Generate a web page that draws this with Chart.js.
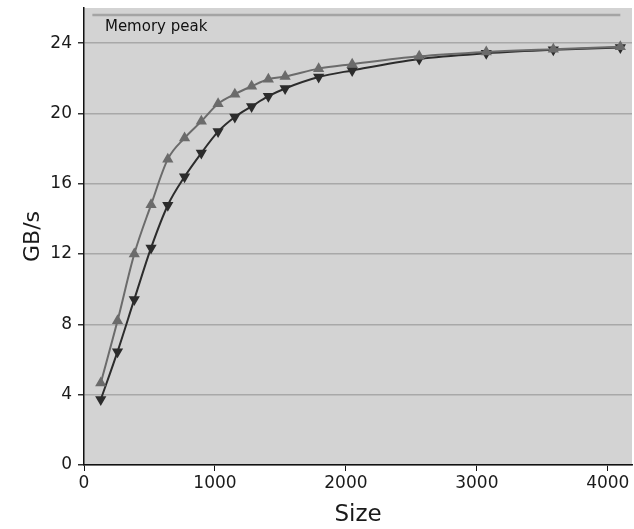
<!DOCTYPE html>
<html>
<head>
<meta charset="utf-8">
<script src="https://cdn.jsdelivr.net/npm/chart.js@4/dist/chart.umd.min.js"></script>
<style>
  html, body { margin: 0; padding: 0; background: #fff; }
  #wrap { width: 634px; height: 529px; }
</style>
</head>
<body>
<div id="wrap"><canvas id="bwChart" width="634" height="529"></canvas></div>
<script>
// matrix sizes
const sizes = [128, 256, 384, 512, 640, 768, 896, 1024, 1152, 1280, 1408, 1536, 1792, 2048, 2560, 3072, 3584, 4096];
// upper curve (grey, up triangles)
const upperGBs = [4.66, 8.2, 12.0, 14.8, 17.4, 18.6, 19.55, 20.55, 21.1, 21.55, 21.95, 22.1, 22.55, 22.8, 23.25, 23.5, 23.65, 23.8];
// lower curve (dark, down triangles)
const lowerGBs = [3.72, 6.45, 9.42, 12.35, 14.78, 16.4, 17.75, 18.97, 19.8, 20.4, 20.98, 21.42, 22.07, 22.45, 23.1, 23.42, 23.62, 23.75];
// memory peak reference
const peakX = [64, 4096];
const peakGBs = 25.6;
const peakLabel = 'Memory peak';
const xTicks = [0, 1000, 2000, 3000, 4000];
const yTicks = [0, 4, 8, 12, 16, 20, 24];

const toPoints = (xs, ys) => xs.map((x, i) => ({ x: x, y: ys[i] }));

const plotBg = {
    id: 'plotBg',
    beforeDraw(chart) {
        const a = chart.chartArea;
        const ctx = chart.ctx;
        ctx.save();
        ctx.fillStyle = '#d3d3d3';
        ctx.fillRect(a.left, a.top, a.right - a.left, a.bottom - a.top);
        ctx.restore();
    }
};

const peakText = {
    id: 'peakText',
    afterDatasetsDraw(chart) {
        const ctx = chart.ctx;
        const x = chart.scales.x.getPixelForValue(160);
        const y = chart.scales.y.getPixelForValue(24.9);
        ctx.save();
        ctx.font = '15px "DejaVu Sans"';
        ctx.fillStyle = '#111';
        ctx.textBaseline = 'middle';
        ctx.fillText(peakLabel, x, y);
        ctx.restore();
    }
};

Chart.defaults.font.family = '"DejaVu Sans", sans-serif';
Chart.defaults.color = '#1a1a1a';

new Chart(document.getElementById('bwChart').getContext('2d'), {
    type: 'line',
    data: {
        datasets: [
            {
                label: peakLabel,
                data: toPoints(peakX, [peakGBs, peakGBs]),
                borderColor: '#a4a4a4',
                borderWidth: 2.5,
                pointRadius: 0
            },
            {
                label: 'upper',
                data: toPoints(sizes, upperGBs),
                borderColor: '#6b6b6b',
                backgroundColor: '#6b6b6b',
                borderWidth: 2,
                pointStyle: 'triangle',
                pointRadius: 4.5,
                cubicInterpolationMode: 'monotone'
            },
            {
                label: 'lower',
                data: toPoints(sizes, lowerGBs),
                borderColor: '#2c2c2c',
                backgroundColor: '#2c2c2c',
                borderWidth: 2,
                pointStyle: 'triangle',
                pointRotation: 180,
                pointRadius: 4.5,
                cubicInterpolationMode: 'monotone'
            }
        ]
    },
    options: {
        responsive: false,
        animation: false,
        layout: { autoPadding: false, padding: { top: 8, right: 2, left: 0, bottom: 0 } },
        plugins: {
            legend: { display: false },
            tooltip: { enabled: false }
        },
        scales: {
            x: {
                type: 'linear',
                min: 0,
                max: 4185,
                afterBuildTicks: (s) => { s.ticks = xTicks.map(v => ({ value: v })); },
                afterFit: (s) => { s.height = 64; s.paddingLeft = 0; s.paddingRight = 0; },
                border: { color: '#111', width: 1.5 },
                grid: { drawOnChartArea: false, tickLength: 6, tickColor: '#111' },
                ticks: { font: { size: 17 }, padding: 2, maxRotation: 0, callback: (v) => String(v) },
                title: { display: true, text: 'Size', font: { size: 23 }, padding: { top: 2, bottom: 0 } }
            },
            y: {
                min: 0,
                max: 26,
                afterBuildTicks: (s) => { s.ticks = yTicks.map(v => ({ value: v })); },
                afterFit: (s) => { s.width = 84; s.paddingTop = 0; s.paddingBottom = 0; },
                border: { color: '#111', width: 1.5 },
                grid: { color: '#a8a8a8', lineWidth: 1.5, tickLength: 6, tickColor: '#333' },
                ticks: { font: { size: 17 }, padding: 6, callback: (v) => String(v) },
                title: { display: true, text: 'GB/s', font: { size: 22 }, padding: { top: 20, bottom: 0 } }
            }
        }
    },
    plugins: [plotBg, peakText]
});
</script>
</body>
</html>
